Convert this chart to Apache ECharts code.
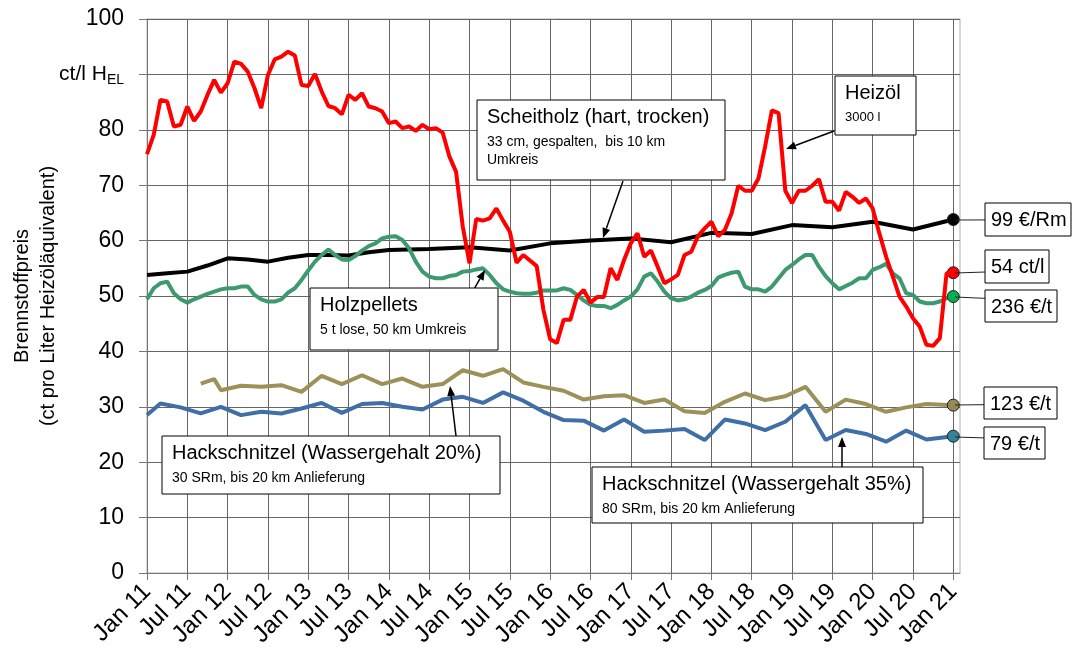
<!DOCTYPE html>
<html><head><meta charset="utf-8">
<script src="https://cdn.jsdelivr.net/npm/echarts@6/dist/echarts.min.js"></script>
<style>html,body{margin:0;padding:0;background:#fff}#c{width:1074px;height:657px}</style>
</head><body><div id="c"></div>
<script>
// ---------- DATA ----------
const monthNames = ['Jan','Feb','Mar','Apr','May','Jun','Jul','Aug','Sep','Oct','Nov','Dec'];
const categories = [];
for (let i = 0; i < 122; i++) { categories.push(monthNames[i % 12] + ' ' + (11 + Math.floor(i / 12))); }

const yTickLabels = ['0','10','20','30','40','50','60','70','80','ct/l H_EL','100'];

// Heizöl (monthly, Jan 11 .. Jan 21)
const heizoel = [
 75.6,79.1,85.4,85.1,80.6,80.9,84.2,81.6,83.3,86.3,
 89.0,86.7,88.4,92.3,91.9,90.5,87.5,83.9,89.9,92.7,
 93.2,94.1,93.4,88.1,87.9,90.1,86.9,84.3,83.9,82.8,
 86.3,85.4,86.6,84.2,83.9,83.3,81.2,81.5,80.3,80.6,
 79.8,80.9,80.1,80.3,79.5,75.2,72.4,62.5,55.9,63.9,
 63.6,64.0,65.8,63.6,61.6,56.0,57.4,56.4,55.4,47.5,
 42.2,41.5,45.7,45.7,49.9,51.1,48.8,49.8,49.8,55.0,
 52.9,56.5,59.5,61.3,57.1,58.2,55.3,52.3,53.0,53.8,
 57.4,58.0,60.8,62.2,63.4,60.8,61.9,64.9,69.9,69.0,
 69.0,71.2,77.0,83.5,83.0,69.0,66.8,69.0,69.0,69.9,
 71.1,67.0,67.0,65.4,68.8,67.9,66.8,67.6,65.8,61.3,
 57.1,53.5,49.9,48.1,46.0,44.5,41.2,41.0,42.4,54.1,
 54.2];

// Holzpellets (monthly)
const pellets = [
 49.4,51.4,52.3,52.6,50.5,49.4,48.8,49.4,49.9,50.4,
 50.8,51.2,51.4,51.4,51.7,51.7,50.2,49.4,49.0,49.0,
 49.4,50.6,51.4,52.9,54.6,56.2,57.4,58.4,57.4,56.6,
 56.5,57.2,58.2,59.0,59.5,60.4,60.7,60.8,60.1,58.6,
 56.2,54.4,53.5,53.2,53.2,53.6,53.8,54.4,54.5,54.8,
 55.0,53.8,52.3,51.2,50.8,50.5,50.4,50.4,50.6,51.0,
 51.0,51.0,51.4,51.1,50.2,49.2,48.4,48.2,48.2,47.8,
 48.4,49.2,49.9,51.2,53.5,54.1,52.6,50.8,49.6,49.2,
 49.4,49.9,50.6,51.1,51.8,53.3,53.8,54.2,54.4,51.7,
 51.2,51.2,50.8,51.7,53.2,54.7,55.6,56.6,57.4,57.4,
 55.3,53.6,52.3,51.2,51.8,52.4,53.2,53.2,54.7,55.2,
 55.8,54.1,53.2,50.5,50.2,49.0,48.7,48.7,49.0,49.6,
 49.9];

// Scheitholz (month index, value)
const scheitMonths = [0,3,6,9,12,15,18,21,24,27,30,33,36,42,48,54,60,66,72,78,84,90,96,102,108,114,120];
const scheitholz   = [53.8,54.1,54.4,55.5,56.8,56.6,56.2,56.9,57.4,57.4,57.3,57.9,58.3,58.5,58.8,58.2,59.5,60.0,60.4,59.7,61.4,61.2,62.8,62.4,63.4,62.0,63.8];

// Hackschnitzel 20 %
const hs20Months = [8,10,11,14,17,20,23,26,29,32,35,38,41,44,47,50,53,56,59,62,65,68,71,74,77,80,83,86,89,92,95,98,101,104,107,110,113,116,120];
const hs20       = [34.2,35.0,33.0,33.8,33.6,33.9,32.7,35.6,34.1,35.7,34.1,35.1,33.6,34.1,36.6,35.6,36.8,34.4,33.6,32.9,31.3,31.9,32.1,30.7,31.3,29.2,28.9,30.9,32.4,31.2,31.9,33.6,29.1,31.3,30.5,29.1,29.9,30.5,30.3];

// Hackschnitzel 35 %
const hs35Months = [0,2,5,8,11,14,17,20,23,26,29,32,35,38,41,44,47,50,53,56,59,62,65,68,71,74,77,80,83,86,89,92,95,98,101,104,107,110,113,116,120];
const hs35       = [28.5,30.6,29.9,28.8,30.0,28.5,29.1,28.8,29.7,30.7,28.9,30.5,30.7,30.0,29.5,31.3,31.8,30.7,32.6,31.1,29.1,27.6,27.5,25.7,27.7,25.5,25.7,26.0,24.0,27.7,27.0,25.8,27.3,30.3,24.0,25.8,25.1,23.7,25.7,24.1,24.7];

const endLabels = ['99 €/Rm','54 ct/l','236 €/t','123 €/t','79 €/t'];

// ---------- BUILD ----------
function expand(months, vals) {
  const a = new Array(121).fill(null);
  months.forEach((m, i) => { a[m] = vals[i]; });
  return a;
}
const FONT = "'Liberation Sans', Arial, sans-serif";

function endPoint(arr, color) {
  return {
    symbol: 'circle', symbolSize: 12, label: { show: false },
    itemStyle: { color: color, borderColor: '#222', borderWidth: 1 },
    data: [{ coord: [categories[arr.length - 1], arr[arr.length - 1]] }]
  };
}
function lineSeries(name, data, color, dotColor, z) {
  return {
    name, type: 'line', data, connectNulls: true, symbol: 'none', z,
    lineStyle: { color, width: 4 }, itemStyle: { color },
    markPoint: endPoint(data, dotColor)
  };
}

const scheitData = expand(scheitMonths, scheitholz);
const hs20Data = expand(hs20Months, hs20);
const hs35Data = expand(hs35Months, hs35);

const g = [];
function arrow(x1, y1, x2, y2) {
  const ang = Math.atan2(y2 - y1, x2 - x1), L = 10, W = 4;
  const bx = x2 - L * Math.cos(ang), by = y2 - L * Math.sin(ang);
  const px = -Math.sin(ang) * W, py = Math.cos(ang) * W;
  g.push({ type: 'line', shape: { x1, y1, x2: bx, y2: by }, style: { stroke: '#000', lineWidth: 1.5 }, z: 100 });
  g.push({ type: 'polygon', shape: { points: [[x2, y2], [bx + px, by + py], [bx - px, by - py]] }, style: { fill: '#000' }, z: 100 });
}
function box(x, y, w, h, title, subs, subSize) {
  g.push({ type: 'rect', shape: { x, y, width: w, height: h }, style: { fill: '#fff', stroke: '#000', lineWidth: 1 }, z: 100 });
  g.push({ type: 'text', x: x + 10, y: y + 7, style: { text: title, font: '20px ' + FONT, fill: '#000', verticalAlign: 'top' }, z: 101 });
  subs.forEach((s, i) => {
    g.push({ type: 'text', x: x + 10, y: y + 35 + i * 18, style: { text: s, font: (subSize || 14) + 'px ' + FONT, fill: '#000', verticalAlign: 'top' }, z: 101 });
  });
}
function valBox(x, y, w, h, txt, dotY) {
  g.push({ type: 'line', shape: { x1: 955, y1: dotY, x2: x, y2: dotY + (y + h / 2 - dotY) * 0.15 }, style: { stroke: '#222', lineWidth: 1 }, z: 90 });
  g.push({ type: 'rect', shape: { x, y, width: w, height: h }, style: { fill: '#fff', stroke: '#000', lineWidth: 1 }, z: 100 });
  g.push({ type: 'text', x: x + 6, y: y + h / 2 + 1, style: { text: txt, font: '20px ' + FONT, fill: '#000', verticalAlign: 'middle' }, z: 101 });
}

arrow(623, 181, 603, 238);
arrow(834, 131, 786, 149);
arrow(473, 291, 485, 270);
arrow(456, 436, 450, 386);
arrow(842, 467, 842, 437);

box(477, 100, 248, 80, 'Scheitholz (hart, trocken)', ['33 cm, gespalten,  bis 10 km', 'Umkreis']);
box(835, 76, 81, 59, 'Heizöl', ['3000 l'], 13);
box(310, 288, 188, 62, 'Holzpellets', ['5 t lose, 50 km Umkreis']);
box(162, 436, 338, 58, 'Hackschnitzel (Wassergehalt 20%)', ['30 SRm, bis 20 km Anlieferung']);
box(592, 467, 331, 56, 'Hackschnitzel (Wassergehalt 35%)', ['80 SRm, bis 20 km Anlieferung']);

valBox(985, 203, 86, 33, endLabels[0], 220);
valBox(985, 250, 64, 33, endLabels[1], 273);
valBox(985, 290, 72, 32, endLabels[2], 297);
valBox(984, 387, 73, 32, endLabels[3], 405);
valBox(984, 427, 61, 32, endLabels[4], 437);

const tickFn = (i) => i % 6 === 0 && i <= 120;

const chart = echarts.init(document.getElementById('c'), null, { renderer: 'canvas' });
chart.setOption({
  animation: false,
  backgroundColor: '#fff',
  textStyle: { fontFamily: FONT },
  grid: { left: 147, right: 114, top: 19, bottom: 84, containLabel: false, outerBoundsMode: 'none',
          show: true, borderColor: '#b0b0b0', borderWidth: 1, backgroundColor: 'transparent' },
  xAxis: {
    type: 'category', data: categories, boundaryGap: false,
    axisLine: { lineStyle: { color: '#777', width: 1 } },
    axisTick: { show: true, interval: tickFn, length: 7, lineStyle: { color: '#777' } },
    splitLine: { show: true, interval: tickFn, lineStyle: { color: '#666', width: 1 } },
    axisLabel: { interval: tickFn, rotate: 45, fontSize: 24, color: '#000', fontFamily: FONT, margin: 15, hideOverlap: false }
  },
  yAxis: {
    type: 'value', min: 0, max: 100, interval: 10,
    name: 'Brennstoffpreis\n(ct pro Liter Heizöläquivalent)',
    nameLocation: 'middle', nameGap: 86, nameRotate: 90, nameMoveOverlap: false,
    nameTextStyle: { fontSize: 20, color: '#000', fontFamily: FONT, lineHeight: 26 },
    axisLine: { show: true, lineStyle: { color: '#777' } },
    axisTick: { show: true, length: 8, lineStyle: { color: '#777' } },
    splitLine: { show: true, lineStyle: { color: '#666', width: 1 } },
    axisLabel: {
      fontSize: 23, color: '#000', fontFamily: FONT, margin: 23,
      formatter: (v) => {
        const l = yTickLabels[Math.round(v / 10)];
        if (l.indexOf('_') >= 0) { const p = l.split('_'); return '{a|' + p[0] + '}{b|' + p[1] + '}'; }
        return l;
      },
      rich: { a: { fontSize: 21, fontFamily: FONT, color: '#000' }, b: { fontSize: 14, fontFamily: FONT, color: '#000', padding: [11, 0, 0, 0] } }
    }
  },
  series: [
    lineSeries('Hackschnitzel 20%', hs20Data, '#9c9158', '#948a54', 2),
    lineSeries('Hackschnitzel 35%', hs35Data, '#3f6fa6', '#31849b', 2),
    lineSeries('Scheitholz', scheitData, '#000000', '#000000', 3),
    lineSeries('Holzpellets', pellets, '#3c9a6e', '#00b050', 4),
    lineSeries('Heizöl', heizoel, '#ff0000', '#ff0000', 5)
  ],
  graphic: g
});
</script></body></html>
